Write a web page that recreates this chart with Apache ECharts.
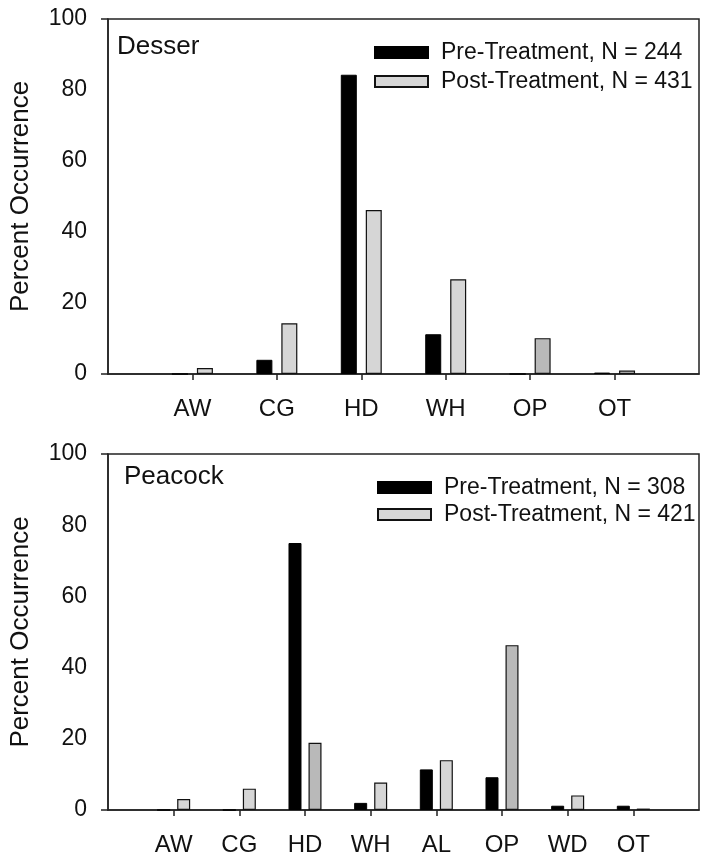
<!DOCTYPE html>
<html>
<head>
<meta charset="utf-8">
<title>Percent Occurrence</title>
<script src="https://cdn.jsdelivr.net/npm/echarts@6/dist/echarts.min.js"></script>
<style>
	html, body { margin: 0; padding: 0; background: #fff; }
	#chart { width: 702px; height: 859px; }
</style>
</head>
<body>
<div id="chart"></div>
<script>
// Desser
var desserCats = ['AW', 'CG', 'HD', 'WH', 'OP', 'OT'];
var desserPre = [0, 4.0, 84.3, 11.2, 0, 0.4];
var desserPost = [1.7, 14.3, 46.2, 26.7, 10.1, 1.0];
// Peacock
var peacockCats = ['AW', 'CG', 'HD', 'WH', 'AL', 'OP', 'WD', 'OT'];
var peacockPre = [0, 0, 75.0, 2.0, 11.4, 9.2, 1.2, 1.2];
var peacockPost = [3.1, 6.0, 18.9, 7.7, 14.0, 46.3, 4.1, 0.4];
// y axis ticks
var yTicks = [0, 20, 40, 60, 80, 100];

var FONT = '"Liberation Sans", Arial, Helvetica, sans-serif';
var postColor = '#d6d6d6';
var postDark = '#b9b9b9';

var occurrenceChart = {
	init: function() {
		var chart = echarts.init(document.getElementById('chart'), null, { renderer: 'canvas' });
		var panels = [
			{ name: 'Desser', cats: desserCats, pre: desserPre, post: desserPost, n: [244, 431], dark: ['OP'],
				grid: { left: 105, top: 19, width: 597, height: 355 }, titleTop: 34, titleLeft: 117,
				legendLeft: 374, legendTop: 41, legendGap: 6, barWidth: 16, barGap: '56%' },
			{ name: 'Peacock', cats: peacockCats, pre: peacockPre, post: peacockPost, n: [308, 421], dark: ['HD', 'OP'],
				grid: { left: 107, top: 454, width: 596, height: 356 }, titleTop: 464, titleLeft: 124,
				legendLeft: 377, legendTop: 476, legendGap: 4, barWidth: 13, barGap: '54%' }
		];
		var option = {
			backgroundColor: '#fff',
			animation: false,
			textStyle: { fontFamily: FONT, color: '#111' },
			title: [], legend: [], grid: [], xAxis: [], yAxis: [], series: []
		};
		panels.forEach(function(p, i) {
			option.title.push({
				text: p.name, left: p.titleLeft, top: p.titleTop, padding: 0,
				textStyle: { fontFamily: FONT, fontSize: 26, fontWeight: 'normal', color: '#111' }
			});
			var preName = 'Pre-Treatment, N = ' + p.n[0];
			var postName = 'Post-Treatment, N = ' + p.n[1];
			option.legend.push({
				data: [preName, postName], orient: 'vertical', left: p.legendLeft, top: p.legendTop,
				padding: 0, itemGap: p.legendGap, itemWidth: 53, itemHeight: 11, icon: 'rect',
				textStyle: { fontFamily: FONT, fontSize: 23, color: '#111', padding: [0, 0, 0, 8] }
			});
			option.grid.push({
				left: p.grid.left, top: p.grid.top, width: p.grid.width, height: p.grid.height,
				show: true, borderColor: '#222', borderWidth: 1.5, backgroundColor: 'transparent'
			});
			// blank slot at both ends, like the original plot
			var cats = [''].concat(p.cats, ['']);
			option.xAxis.push({
				type: 'category', gridIndex: i, data: cats, boundaryGap: false,
				axisLine: { lineStyle: { color: '#222', width: 1.5 } },
				axisTick: { length: 6, lineStyle: { color: '#222', width: 1.5 },
					interval: function(idx, val) { return val !== ''; } },
				axisLabel: { fontFamily: FONT, fontSize: 24, color: '#111', margin: 23, interval: 0 },
				splitLine: { show: false }
			});
			// labels axis
			option.yAxis.push({
				type: 'value', gridIndex: i, min: 0, max: 100, interval: 20, position: 'left',
				axisLine: { show: true, lineStyle: { color: '#222', width: 1.5 } },
				axisTick: { show: false },
				axisLabel: { fontFamily: FONT, fontSize: 23, color: '#111', margin: 21,
					formatter: function(v) { return yTicks.indexOf(v) >= 0 ? String(v) : ''; } },
				splitLine: { show: false },
				name: 'Percent Occurrence', nameLocation: 'middle', nameGap: 74,
				nameTextStyle: { fontFamily: FONT, fontSize: 26, color: '#111' }
			});
			// ticks only at 0 and 100
			option.yAxis.push({
				type: 'value', gridIndex: i, min: 0, max: 100, interval: 100, position: 'left',
				axisLine: { show: false },
				axisTick: { show: true, length: 7, lineStyle: { color: '#222', width: 1.5 } },
				axisLabel: { show: false }, splitLine: { show: false }
			});
			var pad = function(arr) { return [null].concat(arr, [null]); };
			var postData = pad(p.post).map(function(v, k) {
				if (v === null) return v;
				return p.dark.indexOf(cats[k]) >= 0 ? { value: v, itemStyle: { color: postDark } } : v;
			});
			option.series.push({
				name: preName, type: 'bar', xAxisIndex: i, yAxisIndex: i * 2,
				data: pad(p.pre), barWidth: p.barWidth, barGap: p.barGap,
				itemStyle: { color: '#000', borderColor: '#000', borderWidth: 1 }
			});
			option.series.push({
				name: postName, type: 'bar', xAxisIndex: i, yAxisIndex: i * 2,
				data: postData, barWidth: p.barWidth, barGap: p.barGap,
				itemStyle: { color: postColor, borderColor: '#111', borderWidth: 1.2 }
			});
		});
		chart.setOption(option);
	}
};
occurrenceChart.init();
</script>
</body>
</html>
